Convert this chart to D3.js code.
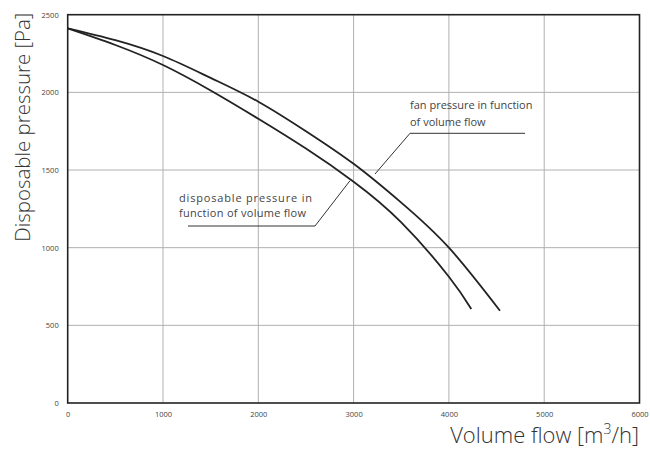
<!DOCTYPE html>
<html><head><meta charset="utf-8">
<script src="https://cdn.jsdelivr.net/npm/d3@7"></script>
<style>body{margin:0;background:#fff}svg{display:block}</style>
</head><body>
<svg id="chart" width="650" height="456"></svg>
<script>
const xTicks = [0,1000,2000,3000,4000,5000,6000];
const yTicks = [0,500,1000,1500,2000,2500];
const fanFlow = [0,500,1000,1500,2000,2500,3000,3500,4000,4536];
const fanPressure = [2412,2336,2234,2093,1940,1750,1540,1290,1000,594];
const dispFlow = [0,500,1000,1500,2000,2500,3000,3500,4000,4235];
const dispPressure = [2412,2305,2176,2012,1830,1638,1425,1163,813,605];
const labelFan = ["fan pressure in function","of volume flow"];
const labelDisp = ["disposable pressure in","function of volume flow"];

const svg = d3.select("#chart");
const m = {l:67.7, r:639.5, t:14.7, b:403};
const x = d3.scaleLinear().domain([0,6000]).range([m.l,m.r]);
const y = d3.scaleLinear().domain([0,2500]).range([m.b,m.t]);
const font = "'Open Sans', 'Noto Sans', sans-serif";

// grid
svg.append("g").selectAll("line").data(xTicks.slice(1,-1)).join("line")
  .attr("x1",d=>x(d)).attr("x2",d=>x(d)).attr("y1",m.t).attr("y2",m.b)
  .attr("stroke","#b0b0b0").attr("stroke-width",1);
svg.append("g").selectAll("line").data(yTicks.slice(1,-1)).join("line")
  .attr("y1",d=>y(d)).attr("y2",d=>y(d)).attr("x1",m.l).attr("x2",m.r)
  .attr("stroke","#b0b0b0").attr("stroke-width",1);

// axes (labels only)
const xAxis = svg.append("g").attr("transform",`translate(0,${m.b})`)
  .call(d3.axisBottom(x).tickValues(xTicks).tickSize(0).tickPadding(9).tickFormat(d3.format("d")));
const yAxis = svg.append("g").attr("transform",`translate(${m.l},0)`)
  .call(d3.axisLeft(y).tickValues(yTicks).tickSize(0).tickPadding(9).tickFormat(d3.format("d")));
[xAxis,yAxis].forEach(a=>{
  a.select(".domain").remove();
  a.selectAll("text").attr("font-family",font).attr("font-size","7.5px").attr("fill","#444");
});

// frame
svg.append("rect").attr("x",m.l).attr("y",m.t).attr("width",m.r-m.l).attr("height",m.b-m.t)
  .attr("fill","none").attr("stroke","#222").attr("stroke-width",1.6);

// curves
const line = d3.line().x(d=>x(d[0])).y(d=>y(d[1])).curve(d3.curveNatural);
svg.append("path").datum(d3.zip(fanFlow,fanPressure)).attr("d",line)
  .attr("fill","none").attr("stroke","#222").attr("stroke-width",1.8);
svg.append("path").datum(d3.zip(dispFlow,dispPressure)).attr("d",line)
  .attr("fill","none").attr("stroke","#222").attr("stroke-width",1.8);

// annotations
const ann = svg.append("g").attr("font-family",font).attr("font-size","11px").attr("fill","#444");
ann.append("text").attr("x",410).attr("y",109).text(labelFan[0]);
ann.append("text").attr("x",410).attr("y",126).text(labelFan[1]);
ann.append("polyline").attr("points","375,174 410,133.3 525,133.3")
  .attr("fill","none").attr("stroke","#333").attr("stroke-width",1);

ann.append("text").attr("x",179).attr("y",202).attr("textLength",133).attr("lengthAdjust","spacing").text(labelDisp[0]);
ann.append("text").attr("x",179).attr("y",217).attr("textLength",127).attr("lengthAdjust","spacing").text(labelDisp[1]);
ann.append("polyline").attr("points","188,226 315,226 350,180.7")
  .attr("fill","none").attr("stroke","#333").attr("stroke-width",1);

// axis titles
svg.append("text").attr("transform","translate(30,241.7) rotate(-90)").attr("text-anchor","start")
  .attr("textLength",229).attr("lengthAdjust","spacingAndGlyphs")
  .attr("font-family",font).attr("font-weight",300).attr("font-size","21px").attr("fill","#333")
  .text("Disposable pressure [Pa]");
const xt = svg.append("text").attr("x",639).attr("y",443).attr("text-anchor","end")
  .attr("font-family",font).attr("font-weight",300).attr("font-size","22px").attr("fill","#333");
xt.append("tspan").text("Volume flow [m");
xt.append("tspan").attr("dy",-9).attr("font-size","14px").text("3");
xt.append("tspan").attr("dy",9).text("/h]");
</script>
</body></html>
